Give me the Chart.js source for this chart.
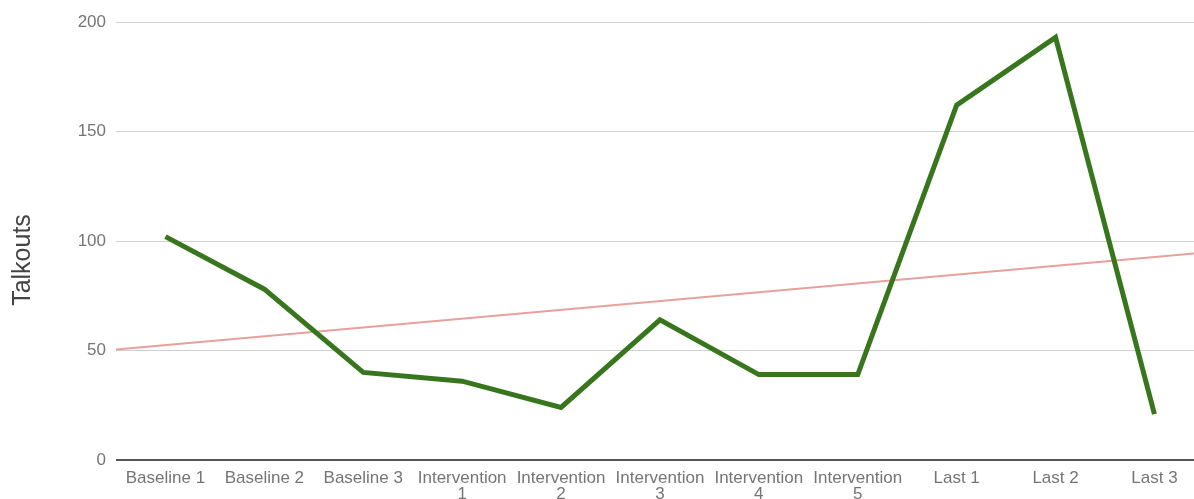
<!DOCTYPE html>
<html>
<head>
<meta charset="utf-8">
<script src="https://cdn.jsdelivr.net/npm/chart.js@4/dist/chart.umd.min.js"></script>
<style>
  html, body { margin: 0; padding: 0; background: #fff; }
  #wrap { width: 1194px; height: 499px; }
</style>
</head>
<body>
<div id="wrap"><canvas id="talkoutsChart"></canvas></div>
<script>
const sessions = [
    'Baseline 1', 'Baseline 2', 'Baseline 3',
    'Intervention 1', 'Intervention 2', 'Intervention 3', 'Intervention 4', 'Intervention 5',
    'Last 1', 'Last 2', 'Last 3'
];
const talkouts = [102, 78, 40, 36, 24, 64, 39, 39, 162, 193, 21];
const yTicks = [0, 50, 100, 150, 200];
const yTitle = 'Talkouts';

// least squares trend over the session index
function linearFit(values) {
    let n = values.length, sx = 0, sy = 0, sxy = 0, sxx = 0;
    values.forEach(function (y, x) { sx += x; sy += y; sxy += x * y; sxx += x * x; });
    let slope = (n * sxy - sx * sy) / (n * sxx - sx * sx);
    let intercept = (sy - slope * sx) / n;
    return function (x) { return intercept + slope * x; };
}

// axis title sits a little below the middle of the plot
const sideTitle = {
    id: 'sideTitle',
    afterDraw: function (chart) {
        let c = chart.ctx;
        c.save();
        c.translate(23, 260);
        c.rotate(-Math.PI / 2);
        c.font = '25px "Liberation Sans", Arial, sans-serif';
        c.fillStyle = '#444';
        c.textAlign = 'center';
        c.textBaseline = 'middle';
        c.fillText(yTitle, 0, 0);
        c.restore();
    }
};

document.addEventListener('DOMContentLoaded', function () {
    Chart.defaults.font.family = '"Liberation Sans", Arial, sans-serif';

    let trend = linearFit(talkouts);
    let xMin = -0.5, xMax = 10.4;

    let ctx = document.getElementById('talkoutsChart').getContext('2d');
    let talkoutsChart = new Chart(ctx, {
        type: 'line',
        data: {
            datasets: [{
                label: 'Talkouts',
                data: talkouts.map(function (v, i) { return { x: i, y: v }; }),
                borderColor: '#38761d',
                borderWidth: 5,
                pointRadius: 0,
                tension: 0,
                order: 1
            }, {
                label: 'Trend',
                data: [{ x: xMin, y: trend(xMin) }, { x: xMax, y: trend(xMax) }],
                borderColor: '#e8a09c',
                borderWidth: 2,
                pointRadius: 0,
                order: 2
            }]
        },
        options: {
            responsive: true,
            maintainAspectRatio: false,
            animation: false,
            layout: { padding: { top: 22, right: 0, left: 0, bottom: 0 } },
            plugins: { legend: { display: false }, tooltip: { enabled: false } },
            scales: {
                x: {
                    type: 'linear',
                    min: xMin,
                    max: xMax,
                    afterBuildTicks: function (scale) {
                        scale.ticks = sessions.map(function (s, i) { return { value: i }; });
                    },
                    afterFit: function (scale) { scale.height = 39; },
                    grid: { display: false, drawTicks: false },
                    border: { display: false },
                    ticks: {
                        autoSkip: false,
                        maxRotation: 0,
                        padding: 10,
                        color: '#757575',
                        font: { size: 17, lineHeight: 0.95 },
                        callback: function (value) {
                            let name = sessions[value];
                            if (!name) return '';
                            let parts = name.split(' ');
                            return parts[0] === 'Intervention' ? parts : name;
                        }
                    }
                },
                y: {
                    min: 0,
                    max: 200,
                    afterBuildTicks: function (scale) {
                        scale.ticks = yTicks.map(function (v) { return { value: v }; });
                    },
                    afterFit: function (scale) { scale.width = 116; },
                    grid: {
                        drawTicks: false,
                        color: function (c) { return c.tick && c.tick.value === 0 ? '#555' : '#cfcfcf'; },
                        lineWidth: function (c) { return c.tick && c.tick.value === 0 ? 2 : 1; }
                    },
                    border: { display: false },
                    ticks: { padding: 10, color: '#757575', font: { size: 17 } }
                }
            }
        },
        plugins: [sideTitle]
    });
});
</script>
</body>
</html>
